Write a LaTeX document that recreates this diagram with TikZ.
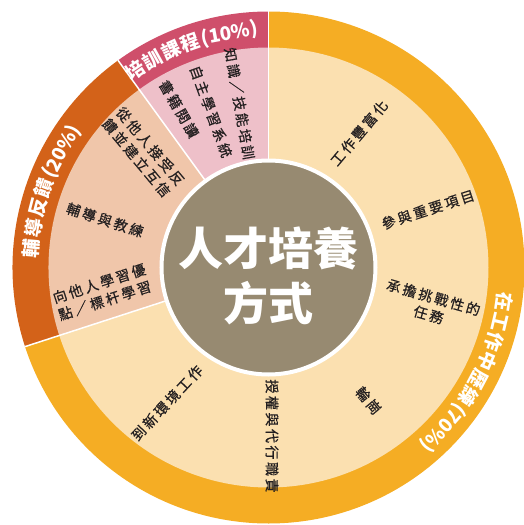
\documentclass[tikz,border=0pt]{standalone}
\usepackage{fontspec}
\newfontfamily\cjk{Noto Sans CJK TC}
\newfontfamily\cjkwide[LetterSpace=18,FakeBold=0.6]{Noto Sans CJK TC}
\definecolor{bandorange}{HTML}{F5AD24}
\definecolor{paleorange}{HTML}{FBE0B0}
\definecolor{banddark}{HTML}{D36219}
\definecolor{palepeach}{HTML}{F0C6AA}
\definecolor{bandpink}{HTML}{CF4F6B}
\definecolor{palepink}{HTML}{EEC0C9}
\definecolor{corebrown}{HTML}{978A71}
\definecolor{itemtext}{HTML}{231F20}

\begin{document}
\begin{tikzpicture}[x=1pt,y=1pt,
    item/.style={font=\cjkwide\fontsize{14}{18}\selectfont, text=itemtext, align=center, inner sep=0pt},
    bandchar/.style={font=\cjk\bfseries\fontsize{19}{19}\selectfont, text=white, inner sep=0pt}]
    \useasboundingbox (-268.5,-257.5) rectangle (255.5,267.5);
    \fill[bandorange] (0,0) -- (90:256) arc[start angle=90, end angle=-162, radius=256] -- cycle;
    \fill[banddark] (0,0) -- (126:256) arc[start angle=126, end angle=198, radius=256] -- cycle;
    \fill[bandpink] (0,0) -- (90:256) arc[start angle=90, end angle=126, radius=256] -- cycle;
    \fill[paleorange] (0,0) -- (90:220) arc[start angle=90, end angle=-162, radius=220] -- cycle;
    \fill[palepeach] (0,0) -- (126:220) arc[start angle=126, end angle=198, radius=220] -- cycle;
    \fill[palepink] (0,0) -- (90:220) arc[start angle=90, end angle=126, radius=220] -- cycle;
    \foreach \a in {90,126,198}
        \draw[white, line width=1.5pt] (0,0) -- (\a:256);
    \filldraw[fill=corebrown, draw=white, line width=4pt] (0,0) circle (107);
    \node[font=\cjk\bfseries\fontsize{45}{55}\selectfont, text=white, align=center] (core) at (0,-8) {人才培養\\方式};

    \foreach \ch/\a [count=\i] in {培/124.0, 訓/119.1, 課/114.2, 程/109.3}
        \node[bandchar, rotate=\a-90] (train\i) at (\a:238) {\ch};
    \node[bandchar, anchor=west, rotate=10.7] (train5) at (106.4:238) {(10\%)};
    \foreach \ch/\a [count=\i] in {輔/175.3, 導/170.4, 反/165.5, 饋/160.6}
        \node[bandchar, rotate=\a-90] (coachband\i) at (\a:238) {\ch};
    \node[bandchar, anchor=west, rotate=61.8] (coachband5) at (157.7:238) {(20\%)};
    \foreach \ch/\a [count=\i] in {在/-8.4, 工/-13.3, 作/-18.2, 中/-23.1, 歷/-28.0, 練/-32.9}
        \node[bandchar, rotate=\a-90] (work\i) at (\a:238) {\ch};
    \node[bandchar, anchor=west, rotate=-131.7] (work7) at (-35.6:238) {(70\%)};

    \node[item, rotate=50] (enrich) at (90.5,134.5) {工作豐富化};
    \node[item, rotate=18] (project) at (159.5,58) {參與重要項目};
    \node[item, rotate=-16] (challenge) at (162.5,-38.5) {承擔挑戰性的\\任務};
    \node[item, rotate=-50] (rotation) at (100,-133) {輪崗};
    \node[item, rotate=-90] (delegate) at (3.5,-168.5) {授權與代行職責};
    \node[item, rotate=47] (newjob) at (-101.5,-135.5) {到新環境工作};
    \node[item, rotate=-50] (feedback) at (-125,115.5) {從他人接受反\\饋並建立互信};
    \node[item, rotate=-18] (coach) at (-163.5,47.5) {輔導與教練};
    \node[item, rotate=18] (learn) at (-166.5,-24.5) {向他人學習優\\點／標杆學習};
    \node[item, rotate=-80] (skill) at (-29,164) {知識／技能培訓};
    \node[item, rotate=-70] (selfstudy) at (-57.5,156) {自主學習系統};
    \node[item, rotate=-60] (reading) at (-89.5,158.5) {書籍閱讀};
\end{tikzpicture}
\end{document}
